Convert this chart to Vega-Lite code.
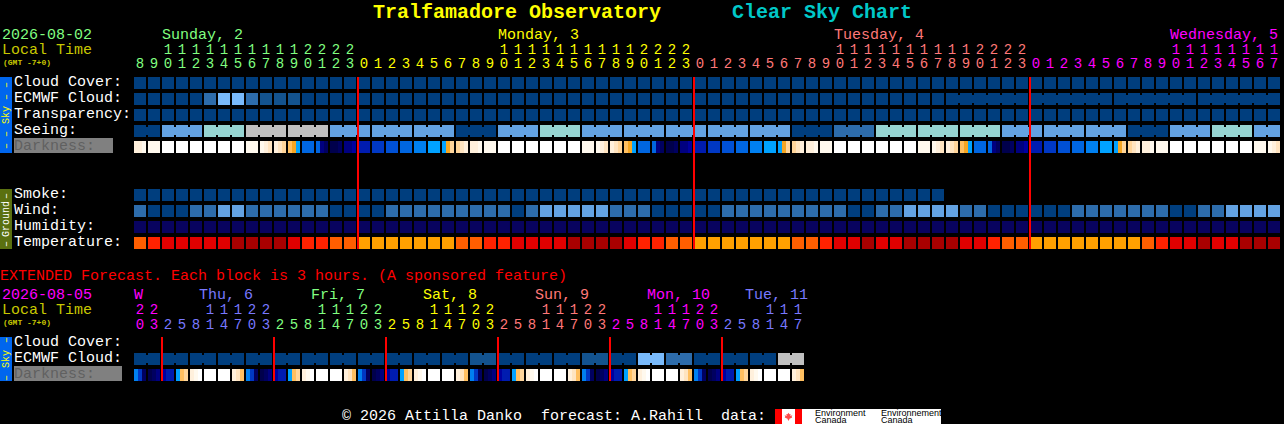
{"$schema":"https://vega.github.io/schema/vega-lite/v6.json","width":1284,"height":424,"padding":0,"autosize":{"type":"none"},"background":"#000000","config":{"view":{"stroke":null}},
"datasets":{
"panels":[{"h":-10,"h2":-9.143,"row":-0.375,"row2":4.375,"tone":"skybar"},{"h":-10,"h2":-9.143,"row":6.625,"row2":10.375,"tone":"groundbar"},{"h":-10,"h2":-9.143,"row":15.875,"row2":18.625,"tone":"skybar"},{"h":-9,"h2":-1.929,"row":3.4375,"row2":4.375,"tone":"darkbar"},{"h":-9,"h2":-1.286,"row":17.6875,"row2":18.625,"tone":"darkbar"},{"h":45.357,"h2":57.214,"row":20.375,"row2":21.3125,"tone":"W"},{"h":45.357,"h2":45.857,"row":20.375,"row2":21.3125,"tone":"red"},{"h":46.786,"h2":47.286,"row":20.375,"row2":21.3125,"tone":"red"}],
"blocks":[
{"h":0,"row":0,"tone":"c0"},{"h":1,"row":0,"tone":"c0"},{"h":2,"row":0,"tone":"c0"},{"h":3,"row":0,"tone":"c0"},{"h":4,"row":0,"tone":"c0"},{"h":5,"row":0,"tone":"c0"},{"h":6,"row":0,"tone":"c0"},{"h":7,"row":0,"tone":"c0"},{"h":8,"row":0,"tone":"c0"},{"h":9,"row":0,"tone":"c0"},{"h":10,"row":0,"tone":"c0"},{"h":11,"row":0,"tone":"c0"},{"h":12,"row":0,"tone":"c0"},{"h":13,"row":0,"tone":"c0"},{"h":14,"row":0,"tone":"c0"},{"h":15,"row":0,"tone":"c0"},{"h":16,"row":0,"tone":"c0"},{"h":17,"row":0,"tone":"c0"},{"h":18,"row":0,"tone":"c0"},{"h":19,"row":0,"tone":"c0"},{"h":20,"row":0,"tone":"c0"},{"h":21,"row":0,"tone":"c0"},{"h":22,"row":0,"tone":"c0"},{"h":23,"row":0,"tone":"c0"},{"h":24,"row":0,"tone":"c0"},{"h":25,"row":0,"tone":"c0"},{"h":26,"row":0,"tone":"c0"},{"h":27,"row":0,"tone":"c0"},{"h":28,"row":0,"tone":"c0"},{"h":29,"row":0,"tone":"c0"},{"h":30,"row":0,"tone":"c0"},{"h":31,"row":0,"tone":"c0"},{"h":32,"row":0,"tone":"c0"},{"h":33,"row":0,"tone":"c0"},{"h":34,"row":0,"tone":"c0"},{"h":35,"row":0,"tone":"c0"},{"h":36,"row":0,"tone":"c0"},{"h":37,"row":0,"tone":"c0"},{"h":38,"row":0,"tone":"c0"},{"h":39,"row":0,"tone":"c0"},{"h":40,"row":0,"tone":"c0"},{"h":41,"row":0,"tone":"c0"},{"h":42,"row":0,"tone":"c0"},{"h":43,"row":0,"tone":"c0"},{"h":44,"row":0,"tone":"c0"},{"h":45,"row":0,"tone":"c0"},{"h":46,"row":0,"tone":"c0"},{"h":47,"row":0,"tone":"c0"},{"h":48,"row":0,"tone":"c0"},{"h":49,"row":0,"tone":"c0"},{"h":50,"row":0,"tone":"c0"},{"h":51,"row":0,"tone":"c0"},{"h":52,"row":0,"tone":"c0"},{"h":53,"row":0,"tone":"c0"},{"h":54,"row":0,"tone":"c0"},{"h":55,"row":0,"tone":"c0"},{"h":56,"row":0,"tone":"c0"},{"h":57,"row":0,"tone":"c0"},{"h":58,"row":0,"tone":"c0"},{"h":59,"row":0,"tone":"c0"},{"h":60,"row":0,"tone":"c0"},{"h":61,"row":0,"tone":"c0"},{"h":62,"row":0,"tone":"c0"},{"h":63,"row":0,"tone":"c0"},{"h":64,"row":0,"tone":"c0"},{"h":65,"row":0,"tone":"c0"},{"h":66,"row":0,"tone":"c0"},{"h":67,"row":0,"tone":"c0"},{"h":68,"row":0,"tone":"c0"},{"h":69,"row":0,"tone":"c0"},{"h":70,"row":0,"tone":"c0"},{"h":71,"row":0,"tone":"c0"},{"h":72,"row":0,"tone":"c0"},{"h":73,"row":0,"tone":"c0"},{"h":74,"row":0,"tone":"c0"},{"h":75,"row":0,"tone":"c0"},{"h":76,"row":0,"tone":"c0"},{"h":77,"row":0,"tone":"c0"},{"h":78,"row":0,"tone":"c0"},{"h":79,"row":0,"tone":"c0"},{"h":80,"row":0,"tone":"c0"},{"h":81,"row":0,"tone":"c0"},
{"h":0,"row":1,"tone":"c0"},{"h":1,"row":1,"tone":"c0"},{"h":2,"row":1,"tone":"c0"},{"h":3,"row":1,"tone":"c0"},{"h":4,"row":1,"tone":"c0"},{"h":5,"row":1,"tone":"c2"},{"h":6,"row":1,"tone":"c3"},{"h":7,"row":1,"tone":"c3"},{"h":8,"row":1,"tone":"c2"},{"h":9,"row":1,"tone":"c1"},{"h":10,"row":1,"tone":"c1"},{"h":11,"row":1,"tone":"c1"},{"h":12,"row":1,"tone":"c0"},{"h":13,"row":1,"tone":"c0"},{"h":14,"row":1,"tone":"c0"},{"h":15,"row":1,"tone":"c0"},{"h":16,"row":1,"tone":"c0"},{"h":17,"row":1,"tone":"c0"},{"h":18,"row":1,"tone":"c0"},{"h":19,"row":1,"tone":"c0"},{"h":20,"row":1,"tone":"c0"},{"h":21,"row":1,"tone":"c0"},{"h":22,"row":1,"tone":"c0"},{"h":23,"row":1,"tone":"c0"},{"h":24,"row":1,"tone":"c0"},{"h":25,"row":1,"tone":"c0"},{"h":26,"row":1,"tone":"c0"},{"h":27,"row":1,"tone":"c0"},{"h":28,"row":1,"tone":"c0"},{"h":29,"row":1,"tone":"c0"},{"h":30,"row":1,"tone":"c0"},{"h":31,"row":1,"tone":"c0"},{"h":32,"row":1,"tone":"c0"},{"h":33,"row":1,"tone":"c0"},{"h":34,"row":1,"tone":"c0"},{"h":35,"row":1,"tone":"c0"},{"h":36,"row":1,"tone":"c0"},{"h":37,"row":1,"tone":"c0"},{"h":38,"row":1,"tone":"c0"},{"h":39,"row":1,"tone":"c0"},{"h":40,"row":1,"tone":"c0"},{"h":41,"row":1,"tone":"c0"},{"h":42,"row":1,"tone":"c0"},{"h":43,"row":1,"tone":"c0"},{"h":44,"row":1,"tone":"c0"},{"h":45,"row":1,"tone":"c0"},{"h":46,"row":1,"tone":"c0"},{"h":47,"row":1,"tone":"c0"},{"h":48,"row":1,"tone":"c0"},{"h":49,"row":1,"tone":"c0"},{"h":50,"row":1,"tone":"c0"},{"h":51,"row":1,"tone":"c0"},{"h":52,"row":1,"tone":"c0"},{"h":53,"row":1,"tone":"c0"},{"h":54,"row":1,"tone":"c0"},{"h":55,"row":1,"tone":"c0"},{"h":56,"row":1,"tone":"c0"},{"h":57,"row":1,"tone":"c0"},{"h":58,"row":1,"tone":"c0"},{"h":59,"row":1,"tone":"c0"},{"h":60,"row":1,"tone":"c0"},{"h":61,"row":1,"tone":"c0"},{"h":62,"row":1,"tone":"c0"},{"h":63,"row":1,"tone":"c0"},{"h":64,"row":1,"tone":"c0"},{"h":65,"row":1,"tone":"c0"},{"h":66,"row":1,"tone":"c0"},{"h":67,"row":1,"tone":"c0"},{"h":68,"row":1,"tone":"c0"},{"h":69,"row":1,"tone":"c0"},{"h":70,"row":1,"tone":"c0"},{"h":71,"row":1,"tone":"c0"},{"h":72,"row":1,"tone":"c0"},{"h":73,"row":1,"tone":"c0"},{"h":74,"row":1,"tone":"c0"},{"h":75,"row":1,"tone":"c0"},{"h":76,"row":1,"tone":"c0"},{"h":77,"row":1,"tone":"c0"},{"h":78,"row":1,"tone":"c0"},{"h":79,"row":1,"tone":"c0"},{"h":80,"row":1,"tone":"c0"},{"h":81,"row":1,"tone":"c0"},
{"h":0,"row":2,"tone":"c0"},{"h":1,"row":2,"tone":"c0"},{"h":2,"row":2,"tone":"c0"},{"h":3,"row":2,"tone":"c0"},{"h":4,"row":2,"tone":"c0"},{"h":5,"row":2,"tone":"c0"},{"h":6,"row":2,"tone":"c0"},{"h":7,"row":2,"tone":"c0"},{"h":8,"row":2,"tone":"c0"},{"h":9,"row":2,"tone":"c0"},{"h":10,"row":2,"tone":"c0"},{"h":11,"row":2,"tone":"c0"},{"h":12,"row":2,"tone":"c0"},{"h":13,"row":2,"tone":"c0"},{"h":14,"row":2,"tone":"c0"},{"h":15,"row":2,"tone":"c0"},{"h":16,"row":2,"tone":"c0"},{"h":17,"row":2,"tone":"c0"},{"h":18,"row":2,"tone":"c0"},{"h":19,"row":2,"tone":"c0"},{"h":20,"row":2,"tone":"c0"},{"h":21,"row":2,"tone":"c0"},{"h":22,"row":2,"tone":"c0"},{"h":23,"row":2,"tone":"c0"},{"h":24,"row":2,"tone":"c0"},{"h":25,"row":2,"tone":"c0"},{"h":26,"row":2,"tone":"c0"},{"h":27,"row":2,"tone":"c0"},{"h":28,"row":2,"tone":"c0"},{"h":29,"row":2,"tone":"c0"},{"h":30,"row":2,"tone":"c0"},{"h":31,"row":2,"tone":"c0"},{"h":32,"row":2,"tone":"c0"},{"h":33,"row":2,"tone":"c0"},{"h":34,"row":2,"tone":"c0"},{"h":35,"row":2,"tone":"c0"},{"h":36,"row":2,"tone":"c0"},{"h":37,"row":2,"tone":"c0"},{"h":38,"row":2,"tone":"c0"},{"h":39,"row":2,"tone":"c0"},{"h":40,"row":2,"tone":"c0"},{"h":41,"row":2,"tone":"c0"},{"h":42,"row":2,"tone":"c0"},{"h":43,"row":2,"tone":"c0"},{"h":44,"row":2,"tone":"c0"},{"h":45,"row":2,"tone":"c0"},{"h":46,"row":2,"tone":"c0"},{"h":47,"row":2,"tone":"c0"},{"h":48,"row":2,"tone":"c0"},{"h":49,"row":2,"tone":"c0"},{"h":50,"row":2,"tone":"c0"},{"h":51,"row":2,"tone":"c0"},{"h":52,"row":2,"tone":"c0"},{"h":53,"row":2,"tone":"c0"},{"h":54,"row":2,"tone":"c0"},{"h":55,"row":2,"tone":"c0"},{"h":56,"row":2,"tone":"c0"},{"h":57,"row":2,"tone":"c0"},{"h":58,"row":2,"tone":"c0"},{"h":59,"row":2,"tone":"c0"},{"h":60,"row":2,"tone":"c0"},{"h":61,"row":2,"tone":"c0"},{"h":62,"row":2,"tone":"c0"},{"h":63,"row":2,"tone":"c0"},{"h":64,"row":2,"tone":"c0"},{"h":65,"row":2,"tone":"c0"},{"h":66,"row":2,"tone":"c0"},{"h":67,"row":2,"tone":"c0"},{"h":68,"row":2,"tone":"c0"},{"h":69,"row":2,"tone":"c0"},{"h":70,"row":2,"tone":"c0"},{"h":71,"row":2,"tone":"c0"},{"h":72,"row":2,"tone":"c0"},{"h":73,"row":2,"tone":"c0"},{"h":74,"row":2,"tone":"c0"},{"h":75,"row":2,"tone":"c0"},{"h":76,"row":2,"tone":"c0"},{"h":77,"row":2,"tone":"c0"},{"h":78,"row":2,"tone":"c0"},{"h":79,"row":2,"tone":"c0"},{"h":80,"row":2,"tone":"c0"},{"h":81,"row":2,"tone":"c0"},
{"h":0,"row":3,"tone":"c0"},{"h":1,"row":3,"tone":"c0"},{"h":2,"row":3,"tone":"s3"},{"h":3,"row":3,"tone":"s3"},{"h":4,"row":3,"tone":"s3"},{"h":5,"row":3,"tone":"s4"},{"h":6,"row":3,"tone":"s4"},{"h":7,"row":3,"tone":"s4"},{"h":8,"row":3,"tone":"s5"},{"h":9,"row":3,"tone":"s5"},{"h":10,"row":3,"tone":"s5"},{"h":11,"row":3,"tone":"s5"},{"h":12,"row":3,"tone":"s5"},{"h":13,"row":3,"tone":"s5"},{"h":14,"row":3,"tone":"s3"},{"h":15,"row":3,"tone":"s3"},{"h":16,"row":3,"tone":"s3"},{"h":17,"row":3,"tone":"s3"},{"h":18,"row":3,"tone":"s3"},{"h":19,"row":3,"tone":"s3"},{"h":20,"row":3,"tone":"s3"},{"h":21,"row":3,"tone":"s3"},{"h":22,"row":3,"tone":"s3"},{"h":23,"row":3,"tone":"c0"},{"h":24,"row":3,"tone":"c0"},{"h":25,"row":3,"tone":"c0"},{"h":26,"row":3,"tone":"s3"},{"h":27,"row":3,"tone":"s3"},{"h":28,"row":3,"tone":"s3"},{"h":29,"row":3,"tone":"s4"},{"h":30,"row":3,"tone":"s4"},{"h":31,"row":3,"tone":"s4"},{"h":32,"row":3,"tone":"s3"},{"h":33,"row":3,"tone":"s3"},{"h":34,"row":3,"tone":"s3"},{"h":35,"row":3,"tone":"s3"},{"h":36,"row":3,"tone":"s3"},{"h":37,"row":3,"tone":"s3"},{"h":38,"row":3,"tone":"s3"},{"h":39,"row":3,"tone":"s3"},{"h":40,"row":3,"tone":"s3"},{"h":41,"row":3,"tone":"s3"},{"h":42,"row":3,"tone":"s3"},{"h":43,"row":3,"tone":"s3"},{"h":44,"row":3,"tone":"s3"},{"h":45,"row":3,"tone":"s3"},{"h":46,"row":3,"tone":"s3"},{"h":47,"row":3,"tone":"c0"},{"h":48,"row":3,"tone":"c0"},{"h":49,"row":3,"tone":"c0"},{"h":50,"row":3,"tone":"c2"},{"h":51,"row":3,"tone":"c2"},{"h":52,"row":3,"tone":"c2"},{"h":53,"row":3,"tone":"s4"},{"h":54,"row":3,"tone":"s4"},{"h":55,"row":3,"tone":"s4"},{"h":56,"row":3,"tone":"s4"},{"h":57,"row":3,"tone":"s4"},{"h":58,"row":3,"tone":"s4"},{"h":59,"row":3,"tone":"s4"},{"h":60,"row":3,"tone":"s4"},{"h":61,"row":3,"tone":"s4"},{"h":62,"row":3,"tone":"s3"},{"h":63,"row":3,"tone":"s3"},{"h":64,"row":3,"tone":"s3"},{"h":65,"row":3,"tone":"s3"},{"h":66,"row":3,"tone":"s3"},{"h":67,"row":3,"tone":"s3"},{"h":68,"row":3,"tone":"s3"},{"h":69,"row":3,"tone":"s3"},{"h":70,"row":3,"tone":"s3"},{"h":71,"row":3,"tone":"c0"},{"h":72,"row":3,"tone":"c0"},{"h":73,"row":3,"tone":"c0"},{"h":74,"row":3,"tone":"s3"},{"h":75,"row":3,"tone":"s3"},{"h":76,"row":3,"tone":"s3"},{"h":77,"row":3,"tone":"s4"},{"h":78,"row":3,"tone":"s4"},{"h":79,"row":3,"tone":"s4"},{"h":80,"row":3,"tone":"s3"},{"h":81,"row":3,"tone":"s3"},
{"h":1,"row":4,"tone":"k1"},{"h":2,"row":4,"tone":"W"},{"h":3,"row":4,"tone":"W"},{"h":4,"row":4,"tone":"W"},{"h":5,"row":4,"tone":"W"},{"h":6,"row":4,"tone":"W"},{"h":7,"row":4,"tone":"W"},{"h":8,"row":4,"tone":"k1"},{"h":12,"row":4,"tone":"b3"},{"h":16,"row":4,"tone":"b6"},{"h":17,"row":4,"tone":"b5"},{"h":18,"row":4,"tone":"b4"},{"h":19,"row":4,"tone":"b3"},{"h":20,"row":4,"tone":"b2"},{"h":21,"row":4,"tone":"b1"},{"h":25,"row":4,"tone":"k1"},{"h":26,"row":4,"tone":"W"},{"h":27,"row":4,"tone":"W"},{"h":28,"row":4,"tone":"W"},{"h":29,"row":4,"tone":"W"},{"h":30,"row":4,"tone":"W"},{"h":31,"row":4,"tone":"W"},{"h":32,"row":4,"tone":"k1"},{"h":36,"row":4,"tone":"b3"},{"h":40,"row":4,"tone":"b6"},{"h":41,"row":4,"tone":"b5"},{"h":42,"row":4,"tone":"b4"},{"h":43,"row":4,"tone":"b3"},{"h":44,"row":4,"tone":"b2"},{"h":45,"row":4,"tone":"b1"},{"h":49,"row":4,"tone":"k1"},{"h":50,"row":4,"tone":"W"},{"h":51,"row":4,"tone":"W"},{"h":52,"row":4,"tone":"W"},{"h":53,"row":4,"tone":"W"},{"h":54,"row":4,"tone":"W"},{"h":55,"row":4,"tone":"W"},{"h":56,"row":4,"tone":"k1"},{"h":60,"row":4,"tone":"b3"},{"h":64,"row":4,"tone":"b6"},{"h":65,"row":4,"tone":"b5"},{"h":66,"row":4,"tone":"b4"},{"h":67,"row":4,"tone":"b3"},{"h":68,"row":4,"tone":"b2"},{"h":69,"row":4,"tone":"b1"},{"h":73,"row":4,"tone":"k1"},{"h":74,"row":4,"tone":"W"},{"h":75,"row":4,"tone":"W"},{"h":76,"row":4,"tone":"W"},{"h":77,"row":4,"tone":"W"},{"h":78,"row":4,"tone":"W"},{"h":79,"row":4,"tone":"W"},{"h":80,"row":4,"tone":"k1"},
{"h":0,"row":7,"tone":"c0"},{"h":1,"row":7,"tone":"c0"},{"h":2,"row":7,"tone":"c0"},{"h":3,"row":7,"tone":"c0"},{"h":4,"row":7,"tone":"c0"},{"h":5,"row":7,"tone":"c0"},{"h":6,"row":7,"tone":"c0"},{"h":7,"row":7,"tone":"c0"},{"h":8,"row":7,"tone":"c0"},{"h":9,"row":7,"tone":"c0"},{"h":10,"row":7,"tone":"c0"},{"h":11,"row":7,"tone":"c0"},{"h":12,"row":7,"tone":"c0"},{"h":13,"row":7,"tone":"c0"},{"h":14,"row":7,"tone":"c0"},{"h":15,"row":7,"tone":"c0"},{"h":16,"row":7,"tone":"c0"},{"h":17,"row":7,"tone":"c0"},{"h":18,"row":7,"tone":"c0"},{"h":19,"row":7,"tone":"c0"},{"h":20,"row":7,"tone":"c0"},{"h":21,"row":7,"tone":"c0"},{"h":22,"row":7,"tone":"c0"},{"h":23,"row":7,"tone":"c0"},{"h":24,"row":7,"tone":"c0"},{"h":25,"row":7,"tone":"c0"},{"h":26,"row":7,"tone":"c0"},{"h":27,"row":7,"tone":"c0"},{"h":28,"row":7,"tone":"c0"},{"h":29,"row":7,"tone":"c0"},{"h":30,"row":7,"tone":"c0"},{"h":31,"row":7,"tone":"c0"},{"h":32,"row":7,"tone":"c0"},{"h":33,"row":7,"tone":"c0"},{"h":34,"row":7,"tone":"c0"},{"h":35,"row":7,"tone":"c0"},{"h":36,"row":7,"tone":"c0"},{"h":37,"row":7,"tone":"c0"},{"h":38,"row":7,"tone":"c0"},{"h":39,"row":7,"tone":"c0"},{"h":40,"row":7,"tone":"c0"},{"h":41,"row":7,"tone":"c0"},{"h":42,"row":7,"tone":"c0"},{"h":43,"row":7,"tone":"c0"},{"h":44,"row":7,"tone":"c0"},{"h":45,"row":7,"tone":"c0"},{"h":46,"row":7,"tone":"c0"},{"h":47,"row":7,"tone":"c0"},{"h":48,"row":7,"tone":"c0"},{"h":49,"row":7,"tone":"c0"},{"h":50,"row":7,"tone":"c0"},{"h":51,"row":7,"tone":"c0"},{"h":52,"row":7,"tone":"c0"},{"h":53,"row":7,"tone":"c0"},{"h":54,"row":7,"tone":"c0"},{"h":55,"row":7,"tone":"c0"},{"h":56,"row":7,"tone":"c0"},{"h":57,"row":7,"tone":"c0"},
{"h":0,"row":8,"tone":"c2"},{"h":1,"row":8,"tone":"c0"},{"h":2,"row":8,"tone":"c0"},{"h":3,"row":8,"tone":"c0"},{"h":4,"row":8,"tone":"c2"},{"h":5,"row":8,"tone":"c2"},{"h":6,"row":8,"tone":"s3"},{"h":7,"row":8,"tone":"s3"},{"h":8,"row":8,"tone":"c2"},{"h":9,"row":8,"tone":"c2"},{"h":10,"row":8,"tone":"c2"},{"h":11,"row":8,"tone":"c2"},{"h":12,"row":8,"tone":"c2"},{"h":13,"row":8,"tone":"c2"},{"h":14,"row":8,"tone":"c0"},{"h":15,"row":8,"tone":"c0"},{"h":16,"row":8,"tone":"c0"},{"h":17,"row":8,"tone":"c0"},{"h":18,"row":8,"tone":"c2"},{"h":19,"row":8,"tone":"c2"},{"h":20,"row":8,"tone":"c2"},{"h":21,"row":8,"tone":"c2"},{"h":22,"row":8,"tone":"c2"},{"h":23,"row":8,"tone":"c2"},{"h":24,"row":8,"tone":"c2"},{"h":25,"row":8,"tone":"c2"},{"h":26,"row":8,"tone":"c2"},{"h":27,"row":8,"tone":"c0"},{"h":28,"row":8,"tone":"c2"},{"h":29,"row":8,"tone":"s3"},{"h":30,"row":8,"tone":"s3"},{"h":31,"row":8,"tone":"s3"},{"h":32,"row":8,"tone":"s3"},{"h":33,"row":8,"tone":"s3"},{"h":34,"row":8,"tone":"c2"},{"h":35,"row":8,"tone":"c2"},{"h":36,"row":8,"tone":"c2"},{"h":37,"row":8,"tone":"c0"},{"h":38,"row":8,"tone":"c0"},{"h":39,"row":8,"tone":"c0"},{"h":40,"row":8,"tone":"c0"},{"h":41,"row":8,"tone":"c0"},{"h":42,"row":8,"tone":"c2"},{"h":43,"row":8,"tone":"c2"},{"h":44,"row":8,"tone":"c2"},{"h":45,"row":8,"tone":"c2"},{"h":46,"row":8,"tone":"c2"},{"h":47,"row":8,"tone":"c2"},{"h":48,"row":8,"tone":"c2"},{"h":49,"row":8,"tone":"c2"},{"h":50,"row":8,"tone":"c2"},{"h":51,"row":8,"tone":"c0"},{"h":52,"row":8,"tone":"c0"},{"h":53,"row":8,"tone":"c2"},{"h":54,"row":8,"tone":"c2"},{"h":55,"row":8,"tone":"s3"},{"h":56,"row":8,"tone":"s3"},{"h":57,"row":8,"tone":"s3"},{"h":58,"row":8,"tone":"s3"},{"h":59,"row":8,"tone":"c2"},{"h":60,"row":8,"tone":"c2"},{"h":61,"row":8,"tone":"c0"},{"h":62,"row":8,"tone":"c0"},{"h":63,"row":8,"tone":"c0"},{"h":64,"row":8,"tone":"c0"},{"h":65,"row":8,"tone":"c0"},{"h":66,"row":8,"tone":"c0"},{"h":67,"row":8,"tone":"c2"},{"h":68,"row":8,"tone":"c2"},{"h":69,"row":8,"tone":"c2"},{"h":70,"row":8,"tone":"c2"},{"h":71,"row":8,"tone":"c2"},{"h":72,"row":8,"tone":"c2"},{"h":73,"row":8,"tone":"c2"},{"h":74,"row":8,"tone":"c0"},{"h":75,"row":8,"tone":"c0"},{"h":76,"row":8,"tone":"c2"},{"h":77,"row":8,"tone":"c2"},{"h":78,"row":8,"tone":"s3"},{"h":79,"row":8,"tone":"s3"},{"h":80,"row":8,"tone":"s3"},{"h":81,"row":8,"tone":"s3"},
{"h":0,"row":9,"tone":"hu"},{"h":1,"row":9,"tone":"hu"},{"h":2,"row":9,"tone":"hu"},{"h":3,"row":9,"tone":"hu"},{"h":4,"row":9,"tone":"hu"},{"h":5,"row":9,"tone":"hu"},{"h":6,"row":9,"tone":"hu"},{"h":7,"row":9,"tone":"hu"},{"h":8,"row":9,"tone":"hu"},{"h":9,"row":9,"tone":"hu"},{"h":10,"row":9,"tone":"hu"},{"h":11,"row":9,"tone":"hu"},{"h":12,"row":9,"tone":"hu"},{"h":13,"row":9,"tone":"hu"},{"h":14,"row":9,"tone":"hu"},{"h":15,"row":9,"tone":"hu"},{"h":16,"row":9,"tone":"hu"},{"h":17,"row":9,"tone":"hu"},{"h":18,"row":9,"tone":"hu"},{"h":19,"row":9,"tone":"hu"},{"h":20,"row":9,"tone":"hu"},{"h":21,"row":9,"tone":"hu"},{"h":22,"row":9,"tone":"hu"},{"h":23,"row":9,"tone":"hu"},{"h":24,"row":9,"tone":"hu"},{"h":25,"row":9,"tone":"hu"},{"h":26,"row":9,"tone":"hu"},{"h":27,"row":9,"tone":"hu"},{"h":28,"row":9,"tone":"hu"},{"h":29,"row":9,"tone":"hu"},{"h":30,"row":9,"tone":"hu"},{"h":31,"row":9,"tone":"hu"},{"h":32,"row":9,"tone":"hu"},{"h":33,"row":9,"tone":"hu"},{"h":34,"row":9,"tone":"hu"},{"h":35,"row":9,"tone":"hu"},{"h":36,"row":9,"tone":"hu"},{"h":37,"row":9,"tone":"hu"},{"h":38,"row":9,"tone":"hu"},{"h":39,"row":9,"tone":"hu"},{"h":40,"row":9,"tone":"hu"},{"h":41,"row":9,"tone":"hu"},{"h":42,"row":9,"tone":"hu"},{"h":43,"row":9,"tone":"hu"},{"h":44,"row":9,"tone":"hu"},{"h":45,"row":9,"tone":"hu"},{"h":46,"row":9,"tone":"hu"},{"h":47,"row":9,"tone":"hu"},{"h":48,"row":9,"tone":"hu"},{"h":49,"row":9,"tone":"hu"},{"h":50,"row":9,"tone":"hu"},{"h":51,"row":9,"tone":"hu"},{"h":52,"row":9,"tone":"hu"},{"h":53,"row":9,"tone":"hu"},{"h":54,"row":9,"tone":"hu"},{"h":55,"row":9,"tone":"hu"},{"h":56,"row":9,"tone":"hu"},{"h":57,"row":9,"tone":"hu"},{"h":58,"row":9,"tone":"hu"},{"h":59,"row":9,"tone":"hu"},{"h":60,"row":9,"tone":"hu"},{"h":61,"row":9,"tone":"hu"},{"h":62,"row":9,"tone":"hu"},{"h":63,"row":9,"tone":"hu"},{"h":64,"row":9,"tone":"hu"},{"h":65,"row":9,"tone":"hu"},{"h":66,"row":9,"tone":"hu"},{"h":67,"row":9,"tone":"hu"},{"h":68,"row":9,"tone":"hu"},{"h":69,"row":9,"tone":"hu"},{"h":70,"row":9,"tone":"hu"},{"h":71,"row":9,"tone":"hu"},{"h":72,"row":9,"tone":"hu"},{"h":73,"row":9,"tone":"hu"},{"h":74,"row":9,"tone":"hu"},{"h":75,"row":9,"tone":"hu"},{"h":76,"row":9,"tone":"hu"},{"h":77,"row":9,"tone":"hu"},{"h":78,"row":9,"tone":"hu"},{"h":79,"row":9,"tone":"hu"},{"h":80,"row":9,"tone":"hu"},{"h":81,"row":9,"tone":"hu"},
{"h":0,"row":10,"tone":"t2"},{"h":1,"row":10,"tone":"t3"},{"h":2,"row":10,"tone":"t4"},{"h":3,"row":10,"tone":"t4"},{"h":4,"row":10,"tone":"t4"},{"h":5,"row":10,"tone":"t4"},{"h":6,"row":10,"tone":"t4"},{"h":7,"row":10,"tone":"t5"},{"h":8,"row":10,"tone":"t5"},{"h":9,"row":10,"tone":"t5"},{"h":10,"row":10,"tone":"t5"},{"h":11,"row":10,"tone":"t4"},{"h":12,"row":10,"tone":"t3"},{"h":13,"row":10,"tone":"t3"},{"h":14,"row":10,"tone":"t2"},{"h":15,"row":10,"tone":"t2"},{"h":16,"row":10,"tone":"t1"},{"h":17,"row":10,"tone":"t1"},{"h":18,"row":10,"tone":"t1"},{"h":19,"row":10,"tone":"t1"},{"h":20,"row":10,"tone":"t1"},{"h":21,"row":10,"tone":"t1"},{"h":22,"row":10,"tone":"t1"},{"h":23,"row":10,"tone":"t2"},{"h":24,"row":10,"tone":"t2"},{"h":25,"row":10,"tone":"t3"},{"h":26,"row":10,"tone":"t3"},{"h":27,"row":10,"tone":"t4"},{"h":28,"row":10,"tone":"t4"},{"h":29,"row":10,"tone":"t4"},{"h":30,"row":10,"tone":"t4"},{"h":31,"row":10,"tone":"t5"},{"h":32,"row":10,"tone":"t5"},{"h":33,"row":10,"tone":"t5"},{"h":34,"row":10,"tone":"t5"},{"h":35,"row":10,"tone":"t4"},{"h":36,"row":10,"tone":"t3"},{"h":37,"row":10,"tone":"t3"},{"h":38,"row":10,"tone":"t2"},{"h":39,"row":10,"tone":"t2"},{"h":40,"row":10,"tone":"t1"},{"h":41,"row":10,"tone":"t1"},{"h":42,"row":10,"tone":"t1"},{"h":43,"row":10,"tone":"t1"},{"h":44,"row":10,"tone":"t1"},{"h":45,"row":10,"tone":"t1"},{"h":46,"row":10,"tone":"t1"},{"h":47,"row":10,"tone":"t2"},{"h":48,"row":10,"tone":"t2"},{"h":49,"row":10,"tone":"t3"},{"h":50,"row":10,"tone":"t4"},{"h":51,"row":10,"tone":"t4"},{"h":52,"row":10,"tone":"t5"},{"h":53,"row":10,"tone":"t4"},{"h":54,"row":10,"tone":"t4"},{"h":55,"row":10,"tone":"t5"},{"h":56,"row":10,"tone":"t5"},{"h":57,"row":10,"tone":"t5"},{"h":58,"row":10,"tone":"t5"},{"h":59,"row":10,"tone":"t4"},{"h":60,"row":10,"tone":"t4"},{"h":61,"row":10,"tone":"t3"},{"h":62,"row":10,"tone":"t2"},{"h":63,"row":10,"tone":"t2"},{"h":64,"row":10,"tone":"t1"},{"h":65,"row":10,"tone":"t1"},{"h":66,"row":10,"tone":"t1"},{"h":67,"row":10,"tone":"t1"},{"h":68,"row":10,"tone":"t1"},{"h":69,"row":10,"tone":"t1"},{"h":70,"row":10,"tone":"t1"},{"h":71,"row":10,"tone":"t1"},{"h":72,"row":10,"tone":"t2"},{"h":73,"row":10,"tone":"t3"},{"h":74,"row":10,"tone":"t4"},{"h":75,"row":10,"tone":"t4"},{"h":76,"row":10,"tone":"t5"},{"h":77,"row":10,"tone":"t4"},{"h":78,"row":10,"tone":"t4"},{"h":79,"row":10,"tone":"t5"},{"h":80,"row":10,"tone":"t5"},{"h":81,"row":10,"tone":"t5"},
{"h":0,"row":17.25,"tone":"c0"},{"h":1,"row":17.25,"tone":"c0"},{"h":2,"row":17.25,"tone":"c0"},{"h":3,"row":17.25,"tone":"c0"},{"h":4,"row":17.25,"tone":"c0"},{"h":5,"row":17.25,"tone":"c0"},{"h":6,"row":17.25,"tone":"c0"},{"h":7,"row":17.25,"tone":"c0"},{"h":8,"row":17.25,"tone":"c0"},{"h":9,"row":17.25,"tone":"c0"},{"h":10,"row":17.25,"tone":"c0"},{"h":11,"row":17.25,"tone":"c0"},{"h":12,"row":17.25,"tone":"c0"},{"h":13,"row":17.25,"tone":"c0"},{"h":14,"row":17.25,"tone":"c0"},{"h":15,"row":17.25,"tone":"c0"},{"h":16,"row":17.25,"tone":"c0"},{"h":17,"row":17.25,"tone":"c0"},{"h":18,"row":17.25,"tone":"c0"},{"h":19,"row":17.25,"tone":"c0"},{"h":20,"row":17.25,"tone":"c0"},{"h":21,"row":17.25,"tone":"c0"},{"h":22,"row":17.25,"tone":"c0"},{"h":23,"row":17.25,"tone":"c0"},{"h":24,"row":17.25,"tone":"c1"},{"h":25,"row":17.25,"tone":"c1"},{"h":26,"row":17.25,"tone":"c0"},{"h":27,"row":17.25,"tone":"c0"},{"h":28,"row":17.25,"tone":"c0"},{"h":29,"row":17.25,"tone":"c0"},{"h":30,"row":17.25,"tone":"c0"},{"h":31,"row":17.25,"tone":"c0"},{"h":32,"row":17.25,"tone":"c1"},{"h":33,"row":17.25,"tone":"c1"},{"h":34,"row":17.25,"tone":"c0"},{"h":35,"row":17.25,"tone":"c0"},{"h":36,"row":17.25,"tone":"c3"},{"h":37,"row":17.25,"tone":"c3"},{"h":38,"row":17.25,"tone":"c2"},{"h":39,"row":17.25,"tone":"c2"},{"h":40,"row":17.25,"tone":"c0"},{"h":41,"row":17.25,"tone":"c0"},{"h":42,"row":17.25,"tone":"c0"},{"h":43,"row":17.25,"tone":"c0"},{"h":44,"row":17.25,"tone":"c0"},{"h":45,"row":17.25,"tone":"c0"},{"h":46,"row":17.25,"tone":"s5"},{"h":47,"row":17.25,"tone":"s5"},
{"h":5,"row":18.25,"tone":"W"},{"h":6,"row":18.25,"tone":"W"},{"h":13,"row":18.25,"tone":"W"},{"h":14,"row":18.25,"tone":"W"},{"h":21,"row":18.25,"tone":"W"},{"h":22,"row":18.25,"tone":"W"},{"h":29,"row":18.25,"tone":"W"},{"h":30,"row":18.25,"tone":"W"},{"h":37,"row":18.25,"tone":"W"},{"h":38,"row":18.25,"tone":"W"},{"h":45,"row":18.25,"tone":"W"},{"h":46,"row":18.25,"tone":"W"}],
"twilight":[
{"h":-0.2857,"row":4,"tone":"k2"},{"h":0,"row":4,"tone":"k2"},{"h":0.2857,"row":4,"tone":"k1"},{"h":8.7143,"row":4,"tone":"k1"},{"h":9,"row":4,"tone":"k2"},{"h":9.2857,"row":4,"tone":"k3"},{"h":9.7143,"row":4,"tone":"k2"},{"h":10,"row":4,"tone":"k3"},{"h":10.2857,"row":4,"tone":"k4"},{"h":10.7143,"row":4,"tone":"k5"},{"h":11,"row":4,"tone":"k6"},{"h":11.2857,"row":4,"tone":"b1"},{"h":12.7143,"row":4,"tone":"b3"},{"h":13,"row":4,"tone":"b8"},{"h":13.2857,"row":4,"tone":"b9"},{"h":13.7143,"row":4,"tone":"b10"},{"h":14,"row":4,"tone":"b10"},{"h":14.2857,"row":4,"tone":"b9"},{"h":14.7143,"row":4,"tone":"b8"},{"h":15,"row":4,"tone":"b8"},{"h":15.2857,"row":4,"tone":"b7"},{"h":21.7143,"row":4,"tone":"b1"},{"h":22,"row":4,"tone":"k6"},{"h":22.2857,"row":4,"tone":"k4"},{"h":22.7143,"row":4,"tone":"k4"},{"h":23,"row":4,"tone":"k3"},{"h":23.2857,"row":4,"tone":"k2"},
{"h":23.7143,"row":4,"tone":"k2"},{"h":24,"row":4,"tone":"k2"},{"h":24.2857,"row":4,"tone":"k1"},{"h":32.7143,"row":4,"tone":"k1"},{"h":33,"row":4,"tone":"k2"},{"h":33.2857,"row":4,"tone":"k3"},{"h":33.7143,"row":4,"tone":"k2"},{"h":34,"row":4,"tone":"k3"},{"h":34.2857,"row":4,"tone":"k4"},{"h":34.7143,"row":4,"tone":"k5"},{"h":35,"row":4,"tone":"k6"},{"h":35.2857,"row":4,"tone":"b1"},{"h":36.7143,"row":4,"tone":"b3"},{"h":37,"row":4,"tone":"b8"},{"h":37.2857,"row":4,"tone":"b9"},{"h":37.7143,"row":4,"tone":"b10"},{"h":38,"row":4,"tone":"b10"},{"h":38.2857,"row":4,"tone":"b9"},{"h":38.7143,"row":4,"tone":"b8"},{"h":39,"row":4,"tone":"b8"},{"h":39.2857,"row":4,"tone":"b7"},{"h":45.7143,"row":4,"tone":"b1"},{"h":46,"row":4,"tone":"k6"},{"h":46.2857,"row":4,"tone":"k4"},{"h":46.7143,"row":4,"tone":"k4"},{"h":47,"row":4,"tone":"k3"},{"h":47.2857,"row":4,"tone":"k2"},
{"h":47.7143,"row":4,"tone":"k2"},{"h":48,"row":4,"tone":"k2"},{"h":48.2857,"row":4,"tone":"k1"},{"h":56.7143,"row":4,"tone":"k1"},{"h":57,"row":4,"tone":"k2"},{"h":57.2857,"row":4,"tone":"k3"},{"h":57.7143,"row":4,"tone":"k2"},{"h":58,"row":4,"tone":"k3"},{"h":58.2857,"row":4,"tone":"k4"},{"h":58.7143,"row":4,"tone":"k5"},{"h":59,"row":4,"tone":"k6"},{"h":59.2857,"row":4,"tone":"b1"},{"h":60.7143,"row":4,"tone":"b3"},{"h":61,"row":4,"tone":"b8"},{"h":61.2857,"row":4,"tone":"b9"},{"h":61.7143,"row":4,"tone":"b10"},{"h":62,"row":4,"tone":"b10"},{"h":62.2857,"row":4,"tone":"b9"},{"h":62.7143,"row":4,"tone":"b8"},{"h":63,"row":4,"tone":"b8"},{"h":63.2857,"row":4,"tone":"b7"},{"h":69.7143,"row":4,"tone":"b1"},{"h":70,"row":4,"tone":"k6"},{"h":70.2857,"row":4,"tone":"k4"},{"h":70.7143,"row":4,"tone":"k4"},{"h":71,"row":4,"tone":"k3"},{"h":71.2857,"row":4,"tone":"k2"},
{"h":71.7143,"row":4,"tone":"k2"},{"h":72,"row":4,"tone":"k2"},{"h":72.2857,"row":4,"tone":"k1"},{"h":80.7143,"row":4,"tone":"k1"},{"h":81,"row":4,"tone":"k2"},{"h":81.2857,"row":4,"tone":"k3"},
{"h":-0.2857,"row":18.25,"tone":"b2"},{"h":0,"row":18.25,"tone":"b5"},{"h":0.2857,"row":18.25,"tone":"b9"},{"h":0.7143,"row":18.25,"tone":"b10"},{"h":1,"row":18.25,"tone":"b9"},{"h":1.2857,"row":18.25,"tone":"b8"},{"h":1.7143,"row":18.25,"tone":"b7"},{"h":2,"row":18.25,"tone":"b6"},{"h":2.2857,"row":18.25,"tone":"b6"},{"h":2.7143,"row":18.25,"tone":"b1"},{"h":3,"row":18.25,"tone":"k5"},{"h":3.2857,"row":18.25,"tone":"k4"},{"h":3.7143,"row":18.25,"tone":"k2"},{"h":4,"row":18.25,"tone":"k1"},{"h":4.2857,"row":18.25,"tone":"W"},{"h":6.7143,"row":18.25,"tone":"k2"},{"h":7,"row":18.25,"tone":"k3"},{"h":7.2857,"row":18.25,"tone":"k5"},
{"h":7.7143,"row":18.25,"tone":"b2"},{"h":8,"row":18.25,"tone":"b5"},{"h":8.2857,"row":18.25,"tone":"b9"},{"h":8.7143,"row":18.25,"tone":"b10"},{"h":9,"row":18.25,"tone":"b9"},{"h":9.2857,"row":18.25,"tone":"b8"},{"h":9.7143,"row":18.25,"tone":"b7"},{"h":10,"row":18.25,"tone":"b6"},{"h":10.2857,"row":18.25,"tone":"b6"},{"h":10.7143,"row":18.25,"tone":"b1"},{"h":11,"row":18.25,"tone":"k5"},{"h":11.2857,"row":18.25,"tone":"k4"},{"h":11.7143,"row":18.25,"tone":"k2"},{"h":12,"row":18.25,"tone":"k1"},{"h":12.2857,"row":18.25,"tone":"W"},{"h":14.7143,"row":18.25,"tone":"k2"},{"h":15,"row":18.25,"tone":"k3"},{"h":15.2857,"row":18.25,"tone":"k5"},
{"h":15.7143,"row":18.25,"tone":"b2"},{"h":16,"row":18.25,"tone":"b5"},{"h":16.2857,"row":18.25,"tone":"b9"},{"h":16.7143,"row":18.25,"tone":"b10"},{"h":17,"row":18.25,"tone":"b9"},{"h":17.2857,"row":18.25,"tone":"b8"},{"h":17.7143,"row":18.25,"tone":"b7"},{"h":18,"row":18.25,"tone":"b6"},{"h":18.2857,"row":18.25,"tone":"b6"},{"h":18.7143,"row":18.25,"tone":"b1"},{"h":19,"row":18.25,"tone":"k5"},{"h":19.2857,"row":18.25,"tone":"k4"},{"h":19.7143,"row":18.25,"tone":"k2"},{"h":20,"row":18.25,"tone":"k1"},{"h":20.2857,"row":18.25,"tone":"W"},{"h":22.7143,"row":18.25,"tone":"k2"},{"h":23,"row":18.25,"tone":"k3"},{"h":23.2857,"row":18.25,"tone":"k5"},
{"h":23.7143,"row":18.25,"tone":"b2"},{"h":24,"row":18.25,"tone":"b5"},{"h":24.2857,"row":18.25,"tone":"b9"},{"h":24.7143,"row":18.25,"tone":"b10"},{"h":25,"row":18.25,"tone":"b9"},{"h":25.2857,"row":18.25,"tone":"b8"},{"h":25.7143,"row":18.25,"tone":"b7"},{"h":26,"row":18.25,"tone":"b6"},{"h":26.2857,"row":18.25,"tone":"b6"},{"h":26.7143,"row":18.25,"tone":"b1"},{"h":27,"row":18.25,"tone":"k5"},{"h":27.2857,"row":18.25,"tone":"k4"},{"h":27.7143,"row":18.25,"tone":"k2"},{"h":28,"row":18.25,"tone":"k1"},{"h":28.2857,"row":18.25,"tone":"W"},{"h":30.7143,"row":18.25,"tone":"k2"},{"h":31,"row":18.25,"tone":"k3"},{"h":31.2857,"row":18.25,"tone":"k5"},
{"h":31.7143,"row":18.25,"tone":"b2"},{"h":32,"row":18.25,"tone":"b5"},{"h":32.2857,"row":18.25,"tone":"b9"},{"h":32.7143,"row":18.25,"tone":"b10"},{"h":33,"row":18.25,"tone":"b9"},{"h":33.2857,"row":18.25,"tone":"b8"},{"h":33.7143,"row":18.25,"tone":"b7"},{"h":34,"row":18.25,"tone":"b6"},{"h":34.2857,"row":18.25,"tone":"b6"},{"h":34.7143,"row":18.25,"tone":"b1"},{"h":35,"row":18.25,"tone":"k5"},{"h":35.2857,"row":18.25,"tone":"k4"},{"h":35.7143,"row":18.25,"tone":"k2"},{"h":36,"row":18.25,"tone":"k1"},{"h":36.2857,"row":18.25,"tone":"W"},{"h":38.7143,"row":18.25,"tone":"k2"},{"h":39,"row":18.25,"tone":"k3"},{"h":39.2857,"row":18.25,"tone":"k5"},
{"h":39.7143,"row":18.25,"tone":"b2"},{"h":40,"row":18.25,"tone":"b5"},{"h":40.2857,"row":18.25,"tone":"b9"},{"h":40.7143,"row":18.25,"tone":"b10"},{"h":41,"row":18.25,"tone":"b9"},{"h":41.2857,"row":18.25,"tone":"b8"},{"h":41.7143,"row":18.25,"tone":"b7"},{"h":42,"row":18.25,"tone":"b6"},{"h":42.2857,"row":18.25,"tone":"b6"},{"h":42.7143,"row":18.25,"tone":"b1"},{"h":43,"row":18.25,"tone":"k5"},{"h":43.2857,"row":18.25,"tone":"k4"},{"h":43.7143,"row":18.25,"tone":"k2"},{"h":44,"row":18.25,"tone":"k1"},{"h":44.2857,"row":18.25,"tone":"W"},{"h":46.7143,"row":18.25,"tone":"k2"},{"h":47,"row":18.25,"tone":"k3"},{"h":47.2857,"row":18.25,"tone":"k5"}],
"links":[
{"h":0.5,"row":3,"tone":"c0"},{"h":2.5,"row":3,"tone":"s3"},{"h":3.5,"row":3,"tone":"s3"},{"h":5.5,"row":3,"tone":"s4"},{"h":6.5,"row":3,"tone":"s4"},{"h":8.5,"row":3,"tone":"s5"},{"h":9.5,"row":3,"tone":"s5"},{"h":11.5,"row":3,"tone":"s5"},{"h":12.5,"row":3,"tone":"s5"},{"h":14.5,"row":3,"tone":"s3"},{"h":15.5,"row":3,"tone":"s3"},{"h":17.5,"row":3,"tone":"s3"},{"h":18.5,"row":3,"tone":"s3"},{"h":20.5,"row":3,"tone":"s3"},{"h":21.5,"row":3,"tone":"s3"},{"h":23.5,"row":3,"tone":"c0"},{"h":24.5,"row":3,"tone":"c0"},{"h":26.5,"row":3,"tone":"s3"},{"h":27.5,"row":3,"tone":"s3"},{"h":29.5,"row":3,"tone":"s4"},{"h":30.5,"row":3,"tone":"s4"},{"h":32.5,"row":3,"tone":"s3"},{"h":33.5,"row":3,"tone":"s3"},{"h":35.5,"row":3,"tone":"s3"},{"h":36.5,"row":3,"tone":"s3"},{"h":38.5,"row":3,"tone":"s3"},{"h":39.5,"row":3,"tone":"s3"},{"h":41.5,"row":3,"tone":"s3"},{"h":42.5,"row":3,"tone":"s3"},{"h":44.5,"row":3,"tone":"s3"},{"h":45.5,"row":3,"tone":"s3"},{"h":47.5,"row":3,"tone":"c0"},{"h":48.5,"row":3,"tone":"c0"},{"h":50.5,"row":3,"tone":"c2"},{"h":51.5,"row":3,"tone":"c2"},{"h":53.5,"row":3,"tone":"s4"},{"h":54.5,"row":3,"tone":"s4"},{"h":56.5,"row":3,"tone":"s4"},{"h":57.5,"row":3,"tone":"s4"},{"h":59.5,"row":3,"tone":"s4"},{"h":60.5,"row":3,"tone":"s4"},{"h":62.5,"row":3,"tone":"s3"},{"h":63.5,"row":3,"tone":"s3"},{"h":65.5,"row":3,"tone":"s3"},{"h":66.5,"row":3,"tone":"s3"},{"h":68.5,"row":3,"tone":"s3"},{"h":69.5,"row":3,"tone":"s3"},{"h":71.5,"row":3,"tone":"c0"},{"h":72.5,"row":3,"tone":"c0"},{"h":74.5,"row":3,"tone":"s3"},{"h":75.5,"row":3,"tone":"s3"},{"h":77.5,"row":3,"tone":"s4"},{"h":78.5,"row":3,"tone":"s4"},{"h":80.5,"row":3,"tone":"s3"},
{"h":58.5,"row":1,"tone":"c0"},{"h":59.5,"row":1,"tone":"c0"},{"h":60.5,"row":1,"tone":"c0"},{"h":61.5,"row":1,"tone":"c0"},{"h":62.5,"row":1,"tone":"c0"},{"h":64.5,"row":1,"tone":"c0"},{"h":65.5,"row":1,"tone":"c0"},{"h":66.5,"row":1,"tone":"c0"},{"h":67.5,"row":1,"tone":"c0"},{"h":68.5,"row":1,"tone":"c0"},{"h":70.5,"row":1,"tone":"c0"},{"h":71.5,"row":1,"tone":"c0"},{"h":72.5,"row":1,"tone":"c0"},{"h":73.5,"row":1,"tone":"c0"},{"h":74.5,"row":1,"tone":"c0"},{"h":76.5,"row":1,"tone":"c0"},{"h":77.5,"row":1,"tone":"c0"},{"h":78.5,"row":1,"tone":"c0"},{"h":79.5,"row":1,"tone":"c0"},{"h":80.5,"row":1,"tone":"c0"},
{"h":0.5,"row":17.25,"tone":"c0"},{"h":2.5,"row":17.25,"tone":"c0"},{"h":4.5,"row":17.25,"tone":"c0"},{"h":6.5,"row":17.25,"tone":"c0"},{"h":8.5,"row":17.25,"tone":"c0"},{"h":10.5,"row":17.25,"tone":"c0"},{"h":12.5,"row":17.25,"tone":"c0"},{"h":14.5,"row":17.25,"tone":"c0"},{"h":16.5,"row":17.25,"tone":"c0"},{"h":18.5,"row":17.25,"tone":"c0"},{"h":20.5,"row":17.25,"tone":"c0"},{"h":22.5,"row":17.25,"tone":"c0"},{"h":24.5,"row":17.25,"tone":"c1"},{"h":26.5,"row":17.25,"tone":"c0"},{"h":28.5,"row":17.25,"tone":"c0"},{"h":30.5,"row":17.25,"tone":"c0"},{"h":32.5,"row":17.25,"tone":"c1"},{"h":34.5,"row":17.25,"tone":"c0"},{"h":36.5,"row":17.25,"tone":"c3"},{"h":38.5,"row":17.25,"tone":"c2"},{"h":40.5,"row":17.25,"tone":"c0"},{"h":42.5,"row":17.25,"tone":"c0"},{"h":44.5,"row":17.25,"tone":"c0"},{"h":46.5,"row":17.25,"tone":"s5"}],
"midnights":[{"h":15.571,"row":-0.375,"row2":10.375,"tone":"red"},{"h":39.571,"row":-0.375,"row2":10.375,"tone":"red"},{"h":63.571,"row":-0.375,"row2":10.375,"tone":"red"},{"h":1.571,"row":15.875,"row2":18.625,"tone":"red"},{"h":9.571,"row":15.875,"row2":18.625,"tone":"red"},{"h":17.571,"row":15.875,"row2":18.625,"tone":"red"},{"h":25.571,"row":15.875,"row2":18.625,"tone":"red"},{"h":33.571,"row":15.875,"row2":18.625,"tone":"red"},{"h":41.571,"row":15.875,"row2":18.625,"tone":"red"}],
"labels":[
{"h":-9,"row":-0.0625,"label":"Cloud Cover:","tone":"W"},{"h":-9,"row":0.9375,"label":"ECMWF Cloud:","tone":"W"},{"h":-9,"row":1.9375,"label":"Transparency:","tone":"W"},{"h":-9,"row":2.9375,"label":"Seeing:","tone":"W"},{"h":-9,"row":3.9375,"label":"Darkness:","tone":"darktext"},{"h":-9,"row":6.9375,"label":"Smoke:","tone":"W"},{"h":-9,"row":7.9375,"label":"Wind:","tone":"W"},{"h":-9,"row":8.9375,"label":"Humidity:","tone":"W"},{"h":-9,"row":9.9375,"label":"Temperature:","tone":"W"},{"h":-9,"row":16.1875,"label":"Cloud Cover:","tone":"W"},{"h":-9,"row":17.1875,"label":"ECMWF Cloud:","tone":"W"},{"h":-9,"row":18.1875,"label":"Darkness:","tone":"darktext"},
{"h":-9.857,"row":-3,"label":"2026-08-02","tone":"green"},{"h":-9.857,"row":-2.06,"label":"Local Time","tone":"olive"},{"h":1.571,"row":-3,"label":"Sunday, 2","tone":"green"},{"h":25.571,"row":-3,"label":"Monday, 3","tone":"yellow"},{"h":49.571,"row":-3,"label":"Tuesday, 4","tone":"salmon"},{"h":73.571,"row":-3,"label":"Wednesday, 5","tone":"magenta"},
{"h":-10,"row":12.06,"label":"EXTENDED Forecast. Each block is 3 hours. (A sponsored feature)","tone":"red"},{"h":-9.857,"row":13.25,"label":"2026-08-05","tone":"magenta"},{"h":-9.857,"row":14.19,"label":"Local Time","tone":"olive"},{"h":-0.429,"row":13.25,"label":"W","tone":"magenta"},{"h":4.214,"row":13.25,"label":"Thu, 6","tone":"peri"},{"h":12.214,"row":13.25,"label":"Fri, 7","tone":"green"},{"h":20.214,"row":13.25,"label":"Sat, 8","tone":"yellow"},{"h":28.214,"row":13.25,"label":"Sun, 9","tone":"salmon"},{"h":36.214,"row":13.25,"label":"Mon, 10","tone":"magenta"},{"h":43.214,"row":13.25,"label":"Tue, 11","tone":"peri"},
{"h":14.43,"row":20.8125,"label":"© 2026 Attilla Danko","tone":"W"},{"h":28.64,"row":20.8125,"label":"forecast: A.Rahill","tone":"W"},{"h":41.5,"row":20.8125,"label":"data:","tone":"W"}],
"ticks":[
{"h":0,"row":-1.19,"label":"8","tone":"green"},{"h":1,"row":-1.19,"label":"9","tone":"green"},{"h":2,"row":-1.19,"label":"0","tone":"green"},{"h":3,"row":-1.19,"label":"1","tone":"green"},{"h":4,"row":-1.19,"label":"2","tone":"green"},{"h":5,"row":-1.19,"label":"3","tone":"green"},{"h":6,"row":-1.19,"label":"4","tone":"green"},{"h":7,"row":-1.19,"label":"5","tone":"green"},{"h":8,"row":-1.19,"label":"6","tone":"green"},{"h":9,"row":-1.19,"label":"7","tone":"green"},{"h":10,"row":-1.19,"label":"8","tone":"green"},{"h":11,"row":-1.19,"label":"9","tone":"green"},{"h":12,"row":-1.19,"label":"0","tone":"green"},{"h":13,"row":-1.19,"label":"1","tone":"green"},{"h":14,"row":-1.19,"label":"2","tone":"green"},{"h":15,"row":-1.19,"label":"3","tone":"green"},
{"h":16,"row":-1.19,"label":"0","tone":"yellow"},{"h":17,"row":-1.19,"label":"1","tone":"yellow"},{"h":18,"row":-1.19,"label":"2","tone":"yellow"},{"h":19,"row":-1.19,"label":"3","tone":"yellow"},{"h":20,"row":-1.19,"label":"4","tone":"yellow"},{"h":21,"row":-1.19,"label":"5","tone":"yellow"},{"h":22,"row":-1.19,"label":"6","tone":"yellow"},{"h":23,"row":-1.19,"label":"7","tone":"yellow"},{"h":24,"row":-1.19,"label":"8","tone":"yellow"},{"h":25,"row":-1.19,"label":"9","tone":"yellow"},{"h":26,"row":-1.19,"label":"0","tone":"yellow"},{"h":27,"row":-1.19,"label":"1","tone":"yellow"},{"h":28,"row":-1.19,"label":"2","tone":"yellow"},{"h":29,"row":-1.19,"label":"3","tone":"yellow"},{"h":30,"row":-1.19,"label":"4","tone":"yellow"},{"h":31,"row":-1.19,"label":"5","tone":"yellow"},{"h":32,"row":-1.19,"label":"6","tone":"yellow"},{"h":33,"row":-1.19,"label":"7","tone":"yellow"},{"h":34,"row":-1.19,"label":"8","tone":"yellow"},{"h":35,"row":-1.19,"label":"9","tone":"yellow"},{"h":36,"row":-1.19,"label":"0","tone":"yellow"},{"h":37,"row":-1.19,"label":"1","tone":"yellow"},{"h":38,"row":-1.19,"label":"2","tone":"yellow"},{"h":39,"row":-1.19,"label":"3","tone":"yellow"},
{"h":40,"row":-1.19,"label":"0","tone":"salmon"},{"h":41,"row":-1.19,"label":"1","tone":"salmon"},{"h":42,"row":-1.19,"label":"2","tone":"salmon"},{"h":43,"row":-1.19,"label":"3","tone":"salmon"},{"h":44,"row":-1.19,"label":"4","tone":"salmon"},{"h":45,"row":-1.19,"label":"5","tone":"salmon"},{"h":46,"row":-1.19,"label":"6","tone":"salmon"},{"h":47,"row":-1.19,"label":"7","tone":"salmon"},{"h":48,"row":-1.19,"label":"8","tone":"salmon"},{"h":49,"row":-1.19,"label":"9","tone":"salmon"},{"h":50,"row":-1.19,"label":"0","tone":"salmon"},{"h":51,"row":-1.19,"label":"1","tone":"salmon"},{"h":52,"row":-1.19,"label":"2","tone":"salmon"},{"h":53,"row":-1.19,"label":"3","tone":"salmon"},{"h":54,"row":-1.19,"label":"4","tone":"salmon"},{"h":55,"row":-1.19,"label":"5","tone":"salmon"},{"h":56,"row":-1.19,"label":"6","tone":"salmon"},{"h":57,"row":-1.19,"label":"7","tone":"salmon"},{"h":58,"row":-1.19,"label":"8","tone":"salmon"},{"h":59,"row":-1.19,"label":"9","tone":"salmon"},{"h":60,"row":-1.19,"label":"0","tone":"salmon"},{"h":61,"row":-1.19,"label":"1","tone":"salmon"},{"h":62,"row":-1.19,"label":"2","tone":"salmon"},{"h":63,"row":-1.19,"label":"3","tone":"salmon"},
{"h":64,"row":-1.19,"label":"0","tone":"magenta"},{"h":65,"row":-1.19,"label":"1","tone":"magenta"},{"h":66,"row":-1.19,"label":"2","tone":"magenta"},{"h":67,"row":-1.19,"label":"3","tone":"magenta"},{"h":68,"row":-1.19,"label":"4","tone":"magenta"},{"h":69,"row":-1.19,"label":"5","tone":"magenta"},{"h":70,"row":-1.19,"label":"6","tone":"magenta"},{"h":71,"row":-1.19,"label":"7","tone":"magenta"},{"h":72,"row":-1.19,"label":"8","tone":"magenta"},{"h":73,"row":-1.19,"label":"9","tone":"magenta"},{"h":74,"row":-1.19,"label":"0","tone":"magenta"},{"h":75,"row":-1.19,"label":"1","tone":"magenta"},{"h":76,"row":-1.19,"label":"2","tone":"magenta"},{"h":77,"row":-1.19,"label":"3","tone":"magenta"},{"h":78,"row":-1.19,"label":"4","tone":"magenta"},{"h":79,"row":-1.19,"label":"5","tone":"magenta"},{"h":80,"row":-1.19,"label":"6","tone":"magenta"},{"h":81,"row":-1.19,"label":"7","tone":"magenta"},
{"h":2,"row":-2.06,"label":"1","tone":"green"},{"h":3,"row":-2.06,"label":"1","tone":"green"},{"h":4,"row":-2.06,"label":"1","tone":"green"},{"h":5,"row":-2.06,"label":"1","tone":"green"},{"h":6,"row":-2.06,"label":"1","tone":"green"},{"h":7,"row":-2.06,"label":"1","tone":"green"},{"h":8,"row":-2.06,"label":"1","tone":"green"},{"h":9,"row":-2.06,"label":"1","tone":"green"},{"h":10,"row":-2.06,"label":"1","tone":"green"},{"h":11,"row":-2.06,"label":"1","tone":"green"},{"h":12,"row":-2.06,"label":"2","tone":"green"},{"h":13,"row":-2.06,"label":"2","tone":"green"},{"h":14,"row":-2.06,"label":"2","tone":"green"},{"h":15,"row":-2.06,"label":"2","tone":"green"},
{"h":26,"row":-2.06,"label":"1","tone":"yellow"},{"h":27,"row":-2.06,"label":"1","tone":"yellow"},{"h":28,"row":-2.06,"label":"1","tone":"yellow"},{"h":29,"row":-2.06,"label":"1","tone":"yellow"},{"h":30,"row":-2.06,"label":"1","tone":"yellow"},{"h":31,"row":-2.06,"label":"1","tone":"yellow"},{"h":32,"row":-2.06,"label":"1","tone":"yellow"},{"h":33,"row":-2.06,"label":"1","tone":"yellow"},{"h":34,"row":-2.06,"label":"1","tone":"yellow"},{"h":35,"row":-2.06,"label":"1","tone":"yellow"},{"h":36,"row":-2.06,"label":"2","tone":"yellow"},{"h":37,"row":-2.06,"label":"2","tone":"yellow"},{"h":38,"row":-2.06,"label":"2","tone":"yellow"},{"h":39,"row":-2.06,"label":"2","tone":"yellow"},
{"h":50,"row":-2.06,"label":"1","tone":"salmon"},{"h":51,"row":-2.06,"label":"1","tone":"salmon"},{"h":52,"row":-2.06,"label":"1","tone":"salmon"},{"h":53,"row":-2.06,"label":"1","tone":"salmon"},{"h":54,"row":-2.06,"label":"1","tone":"salmon"},{"h":55,"row":-2.06,"label":"1","tone":"salmon"},{"h":56,"row":-2.06,"label":"1","tone":"salmon"},{"h":57,"row":-2.06,"label":"1","tone":"salmon"},{"h":58,"row":-2.06,"label":"1","tone":"salmon"},{"h":59,"row":-2.06,"label":"1","tone":"salmon"},{"h":60,"row":-2.06,"label":"2","tone":"salmon"},{"h":61,"row":-2.06,"label":"2","tone":"salmon"},{"h":62,"row":-2.06,"label":"2","tone":"salmon"},{"h":63,"row":-2.06,"label":"2","tone":"salmon"},
{"h":74,"row":-2.06,"label":"1","tone":"magenta"},{"h":75,"row":-2.06,"label":"1","tone":"magenta"},{"h":76,"row":-2.06,"label":"1","tone":"magenta"},{"h":77,"row":-2.06,"label":"1","tone":"magenta"},{"h":78,"row":-2.06,"label":"1","tone":"magenta"},{"h":79,"row":-2.06,"label":"1","tone":"magenta"},{"h":80,"row":-2.06,"label":"1","tone":"magenta"},{"h":81,"row":-2.06,"label":"1","tone":"magenta"},
{"h":0,"row":15.125,"label":"0","tone":"magenta"},{"h":1,"row":15.125,"label":"3","tone":"magenta"},{"h":2,"row":15.125,"label":"2","tone":"peri"},{"h":3,"row":15.125,"label":"5","tone":"peri"},{"h":4,"row":15.125,"label":"8","tone":"peri"},{"h":5,"row":15.125,"label":"1","tone":"peri"},{"h":6,"row":15.125,"label":"4","tone":"peri"},{"h":7,"row":15.125,"label":"7","tone":"peri"},{"h":8,"row":15.125,"label":"0","tone":"peri"},{"h":9,"row":15.125,"label":"3","tone":"peri"},{"h":10,"row":15.125,"label":"2","tone":"green"},{"h":11,"row":15.125,"label":"5","tone":"green"},{"h":12,"row":15.125,"label":"8","tone":"green"},{"h":13,"row":15.125,"label":"1","tone":"green"},{"h":14,"row":15.125,"label":"4","tone":"green"},{"h":15,"row":15.125,"label":"7","tone":"green"},{"h":16,"row":15.125,"label":"0","tone":"green"},{"h":17,"row":15.125,"label":"3","tone":"green"},{"h":18,"row":15.125,"label":"2","tone":"yellow"},{"h":19,"row":15.125,"label":"5","tone":"yellow"},{"h":20,"row":15.125,"label":"8","tone":"yellow"},{"h":21,"row":15.125,"label":"1","tone":"yellow"},{"h":22,"row":15.125,"label":"4","tone":"yellow"},{"h":23,"row":15.125,"label":"7","tone":"yellow"},{"h":24,"row":15.125,"label":"0","tone":"yellow"},{"h":25,"row":15.125,"label":"3","tone":"yellow"},{"h":26,"row":15.125,"label":"2","tone":"salmon"},{"h":27,"row":15.125,"label":"5","tone":"salmon"},{"h":28,"row":15.125,"label":"8","tone":"salmon"},{"h":29,"row":15.125,"label":"1","tone":"salmon"},{"h":30,"row":15.125,"label":"4","tone":"salmon"},{"h":31,"row":15.125,"label":"7","tone":"salmon"},{"h":32,"row":15.125,"label":"0","tone":"salmon"},{"h":33,"row":15.125,"label":"3","tone":"salmon"},{"h":34,"row":15.125,"label":"2","tone":"magenta"},{"h":35,"row":15.125,"label":"5","tone":"magenta"},{"h":36,"row":15.125,"label":"8","tone":"magenta"},{"h":37,"row":15.125,"label":"1","tone":"magenta"},{"h":38,"row":15.125,"label":"4","tone":"magenta"},{"h":39,"row":15.125,"label":"7","tone":"magenta"},{"h":40,"row":15.125,"label":"0","tone":"magenta"},{"h":41,"row":15.125,"label":"3","tone":"magenta"},{"h":42,"row":15.125,"label":"2","tone":"peri"},{"h":43,"row":15.125,"label":"5","tone":"peri"},{"h":44,"row":15.125,"label":"8","tone":"peri"},{"h":45,"row":15.125,"label":"1","tone":"peri"},{"h":46,"row":15.125,"label":"4","tone":"peri"},{"h":47,"row":15.125,"label":"7","tone":"peri"},
{"h":0,"row":14.19,"label":"2","tone":"magenta"},{"h":1,"row":14.19,"label":"2","tone":"magenta"},{"h":5,"row":14.19,"label":"1","tone":"peri"},{"h":6,"row":14.19,"label":"1","tone":"peri"},{"h":7,"row":14.19,"label":"1","tone":"peri"},{"h":8,"row":14.19,"label":"2","tone":"peri"},{"h":9,"row":14.19,"label":"2","tone":"peri"},{"h":13,"row":14.19,"label":"1","tone":"green"},{"h":14,"row":14.19,"label":"1","tone":"green"},{"h":15,"row":14.19,"label":"1","tone":"green"},{"h":16,"row":14.19,"label":"2","tone":"green"},{"h":17,"row":14.19,"label":"2","tone":"green"},{"h":21,"row":14.19,"label":"1","tone":"yellow"},{"h":22,"row":14.19,"label":"1","tone":"yellow"},{"h":23,"row":14.19,"label":"1","tone":"yellow"},{"h":24,"row":14.19,"label":"2","tone":"yellow"},{"h":25,"row":14.19,"label":"2","tone":"yellow"},{"h":29,"row":14.19,"label":"1","tone":"salmon"},{"h":30,"row":14.19,"label":"1","tone":"salmon"},{"h":31,"row":14.19,"label":"1","tone":"salmon"},{"h":32,"row":14.19,"label":"2","tone":"salmon"},{"h":33,"row":14.19,"label":"2","tone":"salmon"},{"h":37,"row":14.19,"label":"1","tone":"magenta"},{"h":38,"row":14.19,"label":"1","tone":"magenta"},{"h":39,"row":14.19,"label":"1","tone":"magenta"},{"h":40,"row":14.19,"label":"2","tone":"magenta"},{"h":41,"row":14.19,"label":"2","tone":"magenta"},{"h":45,"row":14.19,"label":"1","tone":"peri"},{"h":46,"row":14.19,"label":"1","tone":"peri"},{"h":47,"row":14.19,"label":"1","tone":"peri"}],
"titles":[{"h":16.643,"row":-4.44,"label":"Tralfamadore Observatory","tone":"yellow"},{"h":42.286,"row":-4.44,"label":"Clear Sky Chart","tone":"cyan"}],
"zones":[{"h":-9.786,"row":-1.25,"label":"(GMT -7+0)","tone":"olive"},{"h":-9.786,"row":15,"label":"(GMT -7+0)","tone":"olive"}],
"sidelabels":[{"h":-9.571,"row":0.5,"label":"– –","tone":"yellow"},{"h":-9.571,"row":2,"label":"Sky","tone":"yellow"},{"h":-9.571,"row":3.56,"label":"– –","tone":"yellow"},{"h":-9.571,"row":7.06,"label":"–","tone":"W"},{"h":-9.571,"row":8.5,"label":"Ground","tone":"W"},{"h":-9.571,"row":10.06,"label":"–","tone":"W"},{"h":-9.571,"row":16.06,"label":"–","tone":"yellow"},{"h":-9.571,"row":17.25,"label":"Sky","tone":"yellow"},{"h":-9.571,"row":18.44,"label":"–","tone":"yellow"}],
"credit":[{"h":48.214,"row":20.625,"label":"Environment","tone":"black"},{"h":48.214,"row":21.06,"label":"Canada","tone":"black"},{"h":52.93,"row":20.625,"label":"Environnement","tone":"black"},{"h":52.93,"row":21.06,"label":"Canada","tone":"black"}],
"leaf":[{"h":46.32,"row":20.844,"tone":"red"}]
},
"encoding":{
"x":{"field":"h","type":"quantitative","scale":{"domain":[-10,81.7143],"nice":false,"zero":false},"axis":null},
"y":{"field":"row","type":"quantitative","scale":{"domain":[-5.1875,21.3125],"reverse":true,"nice":false,"zero":false},"axis":null},
"color":{"field":"tone","type":"nominal","legend":null,"scale":{
"domain":["c0","c1","c2","c3","s3","s4","s5","hu","t1","t2","t3","t4","t5","W","k1","k2","k3","k4","k5","k6","b1","b2","b3","b4","b5","b6","b7","b8","b9","b10","red","green","yellow","salmon","magenta","peri","cyan","olive","darktext","darkbar","skybar","groundbar","black"],
"range":["#003E7E","#13538F","#2D6CAB","#79BAFB","#63A2E2","#96D4D2","#C0C0C0","#08035F","#FFA000","#FF5E00","#FF2200","#E00000","#A80000","#FFFFFF","#FFF9EE","#FFF0DC","#FFE4C0","#FFD59A","#FFBF60","#F5A623","#00A2FF","#0080F0","#0066E0","#0050D4","#0038C4","#001CB0","#0000A0","#000080","#000060","#00004C","#FF0000","#80FF80","#FFFF00","#FF7878","#FF00FF","#7878FF","#00C8C8","#C8C800","#606060","#808080","#0066EE","#5A7010","#000000"]}}
},
"layer":[
{"data":{"name":"panels"},"mark":{"type":"rect"},"encoding":{"x2":{"field":"h2"},"y2":{"field":"row2"}}},
{"data":{"name":"blocks"},"mark":{"type":"rect","width":12,"height":12}},
{"data":{"name":"twilight"},"mark":{"type":"rect","width":4,"height":12}},
{"data":{"name":"links"},"mark":{"type":"rect","width":2,"height":8}},
{"data":{"name":"midnights"},"mark":{"type":"rule","strokeWidth":2},"encoding":{"y2":{"field":"row2"}}},
{"data":{"name":"labels"},"mark":{"type":"text","font":"Liberation Mono","fontSize":15,"align":"left","baseline":"middle","dy":-1},"encoding":{"text":{"field":"label"}}},
{"data":{"name":"ticks"},"mark":{"type":"text","font":"Liberation Mono","fontSize":14,"align":"center","baseline":"middle"},"encoding":{"text":{"field":"label"}}},
{"data":{"name":"titles"},"mark":{"type":"text","font":"Liberation Mono","fontSize":20,"fontWeight":"bold","align":"left","baseline":"middle"},"encoding":{"text":{"field":"label"}}},
{"data":{"name":"zones"},"mark":{"type":"text","font":"Liberation Mono","fontSize":8,"fontWeight":"bold","align":"left","baseline":"middle"},"encoding":{"text":{"field":"label"}}},
{"data":{"name":"sidelabels"},"mark":{"type":"text","font":"Liberation Mono","fontSize":10,"angle":270,"align":"center","baseline":"middle"},"encoding":{"text":{"field":"label"}}},
{"data":{"name":"credit"},"mark":{"type":"text","font":"Liberation Sans","fontSize":9,"align":"left","baseline":"middle"},"encoding":{"text":{"field":"label"}}},
{"data":{"name":"leaf"},"mark":{"type":"point","filled":true,"size":60,"shape":"M0,-1 L0.25,-0.55 L0.55,-0.65 L0.45,-0.15 L1,-0.3 L0.8,0.1 L1,0.25 L0.25,0.6 L0.1,1 L-0.1,1 L-0.25,0.6 L-1,0.25 L-0.8,0.1 L-1,-0.3 L-0.45,-0.15 L-0.55,-0.65 L-0.25,-0.55 Z"}}
]}
